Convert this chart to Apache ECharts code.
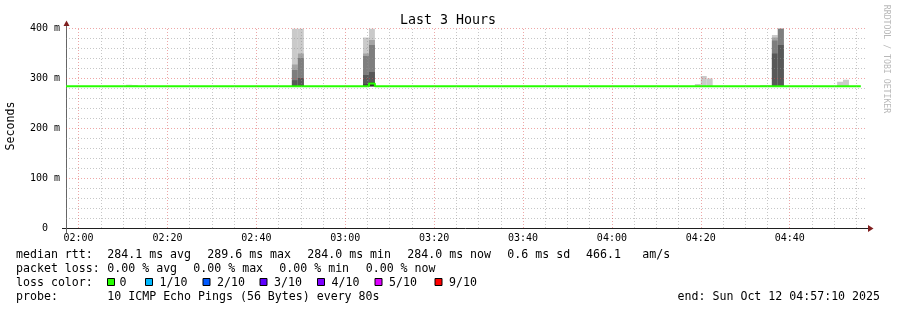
<!DOCTYPE html>
<html><head><meta charset="utf-8">
<script src="https://cdn.jsdelivr.net/npm/echarts@6/dist/echarts.min.js"></script>
<style>html,body{margin:0;padding:0;background:#fff}#c{width:897px;height:310px}</style>
</head><body><div id="c"></div>
<script>
// ---------------- data ----------------
const TITLE = 'Last 3 Hours';
const Y_NAME = 'Seconds';
const WATERMARK = 'RRDTOOL / TOBI OETIKER';
const START = Date.UTC(2025, 9, 12, 1, 57, 10);
const END = Date.UTC(2025, 9, 12, 4, 57, 10);
const FIRST_STEP = Date.UTC(2025, 9, 12, 1, 57, 20);
const STEP = 80000; // 80 s

// median rtt (ms) per 80 s step, step 0 starts at FIRST_STEP
const medianValues = [
  284.0,284.0,284.0,284.0,284.0,284.0,284.0,284.0,284.0,284.0,
  284.0,284.0,284.0,284.0,284.0,284.0,284.0,284.0,284.0,284.0,
  284.0,284.0,284.0,284.0,284.0,284.0,284.0,284.0,284.0,284.0,
  284.0,284.0,284.0,284.0,284.0,284.0,284.0,284.0,284.0,284.0,
  284.0,284.0,284.0,284.0,284.0,284.0,284.0,284.0,284.0,284.0,
  284.0,289.6,284.0,284.0,284.0,284.0,284.0,284.0,284.0,284.0,
  284.0,284.0,284.0,284.0,284.0,284.0,284.0,284.0,284.0,284.0,
  284.0,284.0,284.0,284.0,284.0,284.0,284.0,284.0,284.0,284.0,
  284.0,284.0,284.0,284.0,284.0,284.0,284.0,284.0,284.0,284.0,
  284.0,284.0,284.0,284.0,284.0,284.0,284.0,284.0,284.0,284.0,
  284.0,284.0,284.0,284.0,284.0,284.0,284.0,284.0,284.0,284.0,
  284.0,284.0,284.0,284.0,284.0,284.0,284.0,284.0,284.0,284.0,
  284.0,284.0,284.0,284.0,284.0,284.0,284.0,284.0,284.0,284.0,
  284.0,284.0,284.0,284.0
];

// steps whose 10 pings spread visibly (smoke), sorted ping values in ms
const smokeSteps = [10, 11, 38, 39, 50, 51, 106, 107, 108, 117, 118, 119, 120, 130, 131];
const smokePings = [
  [283.8,283.9,284.0,284.0,284.0,284.0,284.1,284.2,284.4,287.0],
  [283.8,283.9,284.0,284.0,284.0,284.0,284.1,284.2,284.4,286.8],
  [283.9,284.0,284.0,284.0,284.0,286.0,296.0,317.0,328.0,420.0],
  [283.9,284.0,284.0,284.0,284.0,286.0,301.0,341.0,350.0,420.0],
  [283.9,284.0,284.0,284.0,284.0,287.5,307.0,345.0,350.0,382.0],
  [283.9,284.0,284.0,284.0,284.3,292.0,313.0,367.0,377.0,420.0],
  [283.8,283.9,284.0,284.0,284.0,284.0,284.1,284.2,284.4,288.5],
  [283.8,283.9,284.0,284.0,284.0,284.0,284.1,284.2,284.4,305.0],
  [283.8,283.9,284.0,284.0,284.0,284.0,284.1,284.2,284.4,300.0],
  [283.8,283.9,284.0,284.0,284.0,284.0,284.1,284.2,284.4,286.5],
  [283.8,283.9,284.0,284.0,284.0,284.0,284.1,284.2,284.4,286.5],
  [283.9,284.0,284.0,284.0,284.0,285.5,350.0,376.0,382.0,387.0],
  [283.9,284.0,284.0,284.0,284.0,285.5,367.0,420.0,420.0,420.0],
  [283.8,283.9,284.0,284.0,284.0,284.0,284.1,284.2,284.4,293.0],
  [283.8,283.9,284.0,284.0,284.0,284.0,284.1,284.2,284.4,297.0]
];

// axis ticks
const xMajorTicks = ['02:00','02:20','02:40','03:00','03:20','03:40','04:00','04:20','04:40'];
const xGridTicks = ['02:00','02:05','02:10','02:15','02:20','02:25','02:30','02:35','02:40','02:45','02:50','02:55',
                    '03:00','03:05','03:10','03:15','03:20','03:25','03:30','03:35','03:40','03:45','03:50','03:55',
                    '04:00','04:05','04:10','04:15','04:20','04:25','04:30','04:35','04:40','04:45','04:50','04:55'];
const yTicks = [0, 100, 200, 300, 400];
const yTickLabels = ['0', '100 m', '200 m', '300 m', '400 m'];
const yGridMajor = [100, 200, 300, 400];
const yGridMinor = [20,40,60,80,120,140,160,180,220,240,260,280,320,340,360,380];

// legend texts
const statLine = [['median rtt:',16],['284.1 ms avg',107.3],['289.6 ms max',207.3],['284.0 ms min',307.3],
                  ['284.0 ms now',407.3],['0.6 ms sd',507.3],['466.1',586],['am/s',642.3]];
const lossLine = [['packet loss:',16],['0.00 % avg',107.3],['0.00 % max',193.3],['0.00 % min',279.3],['0.00 % now',365.7]];
const lossLabels = ['0','1/10','2/10','3/10','4/10','5/10','9/10'];
const lossColors = ['#26ff00','#00b8ff','#0059ff','#5e00ff','#7e00ff','#dd00ff','#ff0000'];
const lossBoxX = [107.5,145.5,203,260,317.5,375,435];
const probeText = '10 ICMP Echo Pings (56 Bytes) every 80s';
const endText = 'end: Sun Oct 12 04:57:10 2025';
const smokeColors = ['#cacaca','#a4a4a4','#7e7e7e','#585858','#323232'];

// ---------------- chart ----------------
const MONO = '"DejaVu Sans Mono", monospace';
const toMs = s => { const [h, m] = s.split(':').map(Number); return Date.UTC(2025, 9, 12, h, m, 0); };
const pad2 = n => (n < 10 ? '0' : '') + n;
const fmt = v => { const d = new Date(v); return pad2(d.getUTCHours()) + ':' + pad2(d.getUTCMinutes()); };

const medianPts = [[START, medianValues[0]]];
medianValues.forEach((v, k) => medianPts.push([FIRST_STEP + k * STEP, v]));
medianPts.push([FIRST_STEP + medianValues.length * STEP, medianValues[medianValues.length - 1]]);

const smokeData = smokeSteps.map((k, j) => [FIRST_STEP + k * STEP, FIRST_STEP + (k + 1) * STEP].concat(smokePings[j]));

const majorMs = xMajorTicks.map(toMs);
const gridLines = [];
xGridTicks.forEach(t => { if (xMajorTicks.indexOf(t) < 0) gridLines.push({ xAxis: toMs(t), lineStyle: { color: 'rgba(143,143,143,0.5)', type: [1, 2], width: 1 } }); });
yGridMinor.forEach(v => gridLines.push({ yAxis: v, lineStyle: { color: 'rgba(143,143,143,0.5)', type: [1, 2], width: 1 } }));
majorMs.forEach(t => gridLines.push({ xAxis: t, lineStyle: { color: 'rgba(222,79,79,0.5)', type: [1, 2], width: 1 } }));
yGridMajor.forEach(v => gridLines.push({ yAxis: v, lineStyle: { color: 'rgba(222,79,79,0.5)', type: [1, 2], width: 1 } }));

function txt(text, x, y, opts) {
  opts = opts || {};
  return {
    type: 'text', x: x, y: y, rotation: opts.rotation || 0, silent: true,
    style: {
      text: text, x: 0, y: 0,
      font: (opts.size || 11.6) + 'px ' + MONO,
      fill: opts.color || '#000',
      textAlign: opts.align || 'left', align: opts.align || 'left',
      textVerticalAlign: 'middle', verticalAlign: 'middle'
    }
  };
}

const graphics = [];
graphics.push(txt(TITLE, 448, 20.5, { size: 13.3, align: 'center' }));
graphics.push(txt(Y_NAME, 11, 126, { rotation: Math.PI / 2, align: 'center' }));
graphics.push(txt(WATERMARK, 886, 59, { rotation: -Math.PI / 2, align: 'center', size: 8.2, color: '#b8b8b8' }));
statLine.forEach(([t, x]) => graphics.push(txt(t, x, 255.3)));
lossLine.forEach(([t, x]) => graphics.push(txt(t, x, 269.3)));
graphics.push(txt('loss color:', 16, 283.3));
lossLabels.forEach((t, i) => {
  graphics.push({ type: 'rect', silent: true, shape: { x: lossBoxX[i], y: 278.5, width: 7, height: 7 },
                  style: { fill: lossColors[i], stroke: '#000', lineWidth: 1 } });
  graphics.push(txt(t, lossBoxX[i] + (i === 0 ? 12 : 14), 283.3));
});
graphics.push(txt('probe:', 16, 297.3));
graphics.push(txt(probeText, 107.3, 297.3));
graphics.push(txt(endText, 880, 297.3, { align: 'right' }));
// axis overhangs and arrow heads
graphics.push({ type: 'line', silent: true, shape: { x1: 62, y1: 228.5, x2: 869, y2: 228.5 }, style: { stroke: '#1f1f1f', lineWidth: 1 } });
graphics.push({ type: 'line', silent: true, shape: { x1: 66.5, y1: 23, x2: 66.5, y2: 233 }, style: { stroke: '#666', lineWidth: 1 } });
graphics.push({ type: 'polygon', silent: true, shape: { points: [[868, 225], [873.5, 228.5], [868, 232]] }, style: { fill: '#801f1f' } });
graphics.push({ type: 'polygon', silent: true, shape: { points: [[63.5, 26], [66.5, 20.5], [69.5, 26]] }, style: { fill: '#801f1f' } });

const chart = echarts.init(document.getElementById('c'), null, { renderer: 'canvas' });
chart.setOption({
  backgroundColor: '#fff',
  animation: false,
  grid: { left: 66, top: 28.5, width: 800, height: 199.5, containLabel: false },
  xAxis: {
    type: 'value', min: START, max: END,
    axisLine: { show: false },
    axisTick: { show: false },
    splitLine: { show: false },
    axisLabel: {
      customValues: majorMs, formatter: v => fmt(v), margin: 5,
      fontFamily: MONO, fontSize: 10, color: '#000'
    }
  },
  yAxis: {
    type: 'value', min: 0, max: 400, interval: 100,
    axisLine: { show: false },
    axisTick: { show: false },
    splitLine: { show: false },
    axisLabel: {
      margin: 6, fontFamily: MONO, fontSize: 10, color: '#000', padding: [2, 0, 0, 0],
      formatter: v => { const i = yTicks.indexOf(v); if (i < 0) return ''; return v === 0 ? yTickLabels[i] + '  ' : yTickLabels[i]; }
    }
  },
  series: [
    {
      type: 'custom', z: 2, clip: true, silent: true,
      encode: { x: [0, 1], y: [2, 3, 4, 5, 6, 7, 8, 9, 10, 11] },
      data: smokeData,
      renderItem: function (params, api) {
        const t0 = api.value(0), t1 = api.value(1);
        const children = [];
        for (let i = 0; i < 5; i++) {
          const lo = Math.min(api.value(2 + i), 400), hi = Math.min(api.value(11 - i), 400);
          if (hi <= lo) continue;
          const a = api.coord([t0, hi]), b = api.coord([t1, lo]);
          children.push({ type: 'rect', shape: { x: a[0], y: a[1], width: b[0] - a[0], height: b[1] - a[1] },
                          style: { fill: smokeColors[i] } });
        }
        return { type: 'group', children: children };
      }
    },
    {
      type: 'line', z: 4, step: 'end', data: medianPts, showSymbol: false, symbol: 'none', silent: true,
      lineStyle: { color: '#26ff00', width: 2 }
    },
    {
      type: 'line', z: 6, data: [], silent: true,
      markLine: { symbol: ['none', 'none'], silent: true, animation: false, label: { show: false }, data: gridLines }
    }
  ],
  graphic: graphics
});
</script></body></html>
